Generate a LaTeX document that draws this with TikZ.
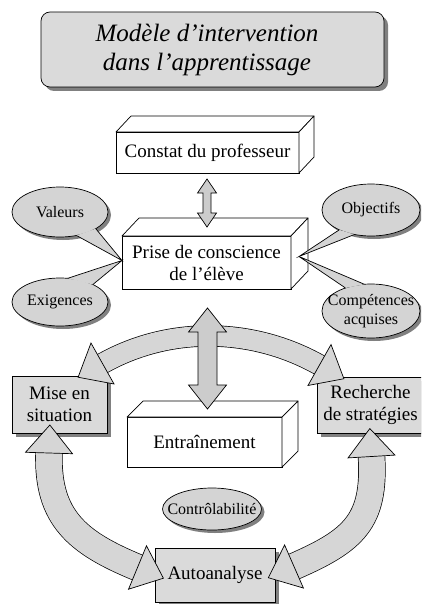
\documentclass[tikz,border=0pt]{standalone}
\usepackage{fontspec}
\setmainfont{Liberation Serif}
\usetikzlibrary{calc,shapes.geometric,shadows}
\definecolor{boxgray}{RGB}{218,218,218}
\definecolor{ovalgray}{RGB}{212,212,212}
\definecolor{ringgray}{RGB}{214,214,214}
\definecolor{arrgray}{RGB}{204,204,204}
\definecolor{shadowgray}{RGB}{128,128,128}
\tikzset{
  edge/.style={draw=black, line width=0.7pt},
  boxshadow/.style={drop shadow={shadow xshift=4pt, shadow yshift=-4pt, fill=shadowgray, opacity=1}},
  ovalshadow/.style={drop shadow={shadow xshift=3pt, shadow yshift=-3pt, fill=shadowgray, opacity=1}},
  titlebox/.style={edge, fill=boxgray, rounded corners=9pt, boxshadow, minimum width=343pt, minimum height=75pt, inner sep=0pt, outer sep=0pt},
  titletext/.style={align=center, inner sep=0pt, font=\fontsize{25}{29}\selectfont\itshape, xshift=-5.5pt},
  flatbox/.style={edge, fill=boxgray, boxshadow, rectangle, inner sep=0pt, outer sep=0pt, align=center, font=\fontsize{19}{22}\selectfont},
  cubebox/.style={edge, fill=white, rectangle, inner sep=0pt, outer sep=0pt, align=center, font=\fontsize{19}{22}\selectfont},
  oval/.style={edge, fill=ovalgray, ovalshadow, ellipse, inner sep=0pt, outer sep=0pt},
  ovaltext/.style={align=center, font=\fontsize{16}{19}\selectfont, inner sep=0pt},
}
\newcommand\cubedepth[3]{%
  \filldraw[edge, fill=white, line join=round] (#1.north west) -- ++(#2,#3) -- ($(#1.north east)+(#2,#3)$) -- (#1.north east) -- cycle;
  \filldraw[edge, fill=white, line join=round] (#1.north east) -- ($(#1.north east)+(#2,#3)$) -- ($(#1.south east)+(#2,#3)$) -- (#1.south east) -- cycle;}
\newcommand\callout[4]{%
  \fill[ovalgray] (#1.#2) -- (#4) -- (#1.#3) -- cycle;
  \draw[edge] (#1.#2) -- (#4) -- (#1.#3);}
\newcommand\headtri[2]{%
  \filldraw[edge, fill=ringgray] ($(#1)!-28pt!(#2)$) -- ($(#1)!23.5pt!90:(#2)$) -- ($(#1)!23.5pt!-90:(#2)$) -- cycle;}
\newcommand\ringband[5]{%
  \draw[line width=#5pt+1.4pt] (#1) .. controls (#2) and (#3) .. (#4);
  \draw[line width=#5pt, ringgray] (#1) .. controls (#2) and (#3) .. (#4);
  \headtri{#1}{#2}\headtri{#4}{#3}}
\newcommand\vdarrow[6]{%
  \filldraw[edge, fill=arrgray] (#1,#2) -- (#1+#5,#2+#4) -- (#1+#6,#2+#4) -- (#1+#6,#3-#4) -- (#1+#5,#3-#4) -- (#1,#3) -- (#1-#5,#3-#4) -- (#1-#6,#3-#4) -- (#1-#6,#2+#4) -- (#1-#5,#2+#4) -- cycle;}
\begin{document}
\begin{tikzpicture}[x=1pt,y=-1pt]
\clip (0,0) rectangle (421,604);
% title
\node[titlebox, label={[titletext]center:Modèle d’intervention\\dans l’apprentissage}] (title) at (212.5,49.5) {};
% constat
\node[cubebox, minimum width=183pt, minimum height=41pt] (constat) at (207.5,152.5) {Constat du professeur};
\cubedepth{constat}{15}{-16}
% ovals
\node[oval, minimum width=96pt, minimum height=50pt, label={[ovaltext]center:Valeurs}] (val) at (60,212) {};
\node[oval, minimum width=96pt, minimum height=48pt, label={[ovaltext]center:Exigences}] (exi) at (60,302) {};
\node[oval, minimum width=98pt, minimum height=52pt, label={[ovaltext]center:Objectifs}] (obj) at (371,210) {};
\node[oval, minimum width=98pt, minimum height=54pt, label={[ovaltext]center:Compétences\\acquises}] (comp) at (371,311) {};
% prise de conscience
\node[cubebox, minimum width=169pt, minimum height=53pt] (prise) at (206.5,262.5) {Prise de conscience\\de l’élève};
\cubedepth{prise}{17}{-18}
\coordinate (ptl) at ($(prise.west)+(0,-2)$);
\coordinate (ptr) at ($(prise.east)+(8,-6)$);
\callout{val}{-25}{-55}{ptl}
\callout{exi}{28}{72}{ptl}
\callout{obj}{212}{236}{ptr}
\callout{comp}{104}{138}{ptr}
% cycle boxes
\node[flatbox, minimum width=95pt, minimum height=57pt] (mise) at (59.5,404.5) {Mise en\\situation};
\node[flatbox, minimum width=107pt, minimum height=56pt] (rech) at (370.5,405) {Recherche\\de stratégies};
\node[flatbox, minimum width=120pt, minimum height=54pt] (auto) at (215,575) {Autoanalyse};
\node[cubebox, minimum width=155pt, minimum height=50pt] (entr) at (204.5,442) {Entraînement};
\cubedepth{entr}{16}{-16}
\node[oval, minimum width=99pt, minimum height=42pt, label={[ovaltext]center:Contrôlabilité}] (ctrl) at (212,509) {};
% ring arrows
\coordinate (a0) at (102.5,363.5); \coordinate (a1) at (169.5,325.8);
\coordinate (a2) at (252.5,327.3); \coordinate (a3) at (319.5,365);
\coordinate (b0) at (49,453); \coordinate (b1) at (47,518);
\coordinate (b2) at (77.7,542.8); \coordinate (b3) at (137.5,567.5);
\coordinate (c0) at (371.5,456.5); \coordinate (c1) at (375.4,521.5);
\coordinate (c2) at (353.5,540.5); \coordinate (c3) at (294,566.5);
\ringband{a0}{a1}{a2}{a3}{20}
\ringband{b0}{b1}{b2}{b3}{26}
\ringband{c0}{c1}{c2}{c3}{26}
% vertical arrows
\vdarrow{207}{179}{227}{14}{9.5}{4}
\vdarrow{207.5}{308}{409}{24}{19}{9.5}
\end{tikzpicture}
\end{document}
